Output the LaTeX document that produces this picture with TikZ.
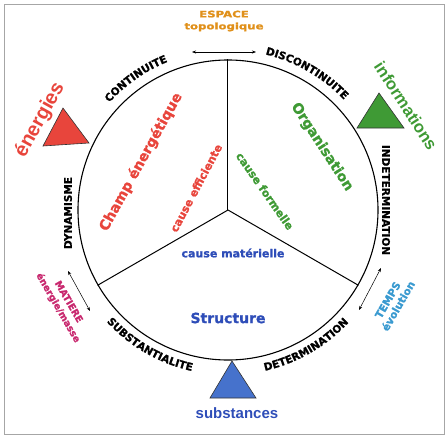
\documentclass[tikz,border=0pt]{standalone}
\usepackage{fontspec}
\setmainfont{DejaVu Sans}[BoldFeatures={FakeBold=1.2}]
\newfontfamily\bigf{Liberation Sans}
\usetikzlibrary{decorations.text,arrows.meta}
\definecolor{cred}{HTML}{E8453C}
\definecolor{cgreen}{HTML}{3F9A35}
\definecolor{cblue}{HTML}{2E4DB8}
\definecolor{tblue}{HTML}{4672CC}
\definecolor{corange}{HTML}{E0901A}
\definecolor{cmag}{HTML}{C8286E}
\definecolor{ccyan}{HTML}{3A9AD0}
\newcommand\labf{\fontsize{10.5}{12}\selectfont\bfseries}
\begin{document}
\begin{tikzpicture}[x=1pt,y=1pt,
  lab/.style={font=\labf},
  tri/.style={draw=black!80,line width=0.6pt},
  dbl/.style={{Stealth[length=4pt,width=3pt]}-{Stealth[length=4pt,width=3pt]},line width=0.5pt},
  curv/.style={decorate,decoration={text along path,text align=center,text={#1}}},
  big/.style={font=\bigf\bfseries\fontsize{#1}{#1}\selectfont}]
\useasboundingbox (-228,-227) rectangle (219,210);
\draw[gray!70,line width=0.8pt] (-224,-224) rectangle (216,206);
% circle and sectors
\node[circle,draw,line width=1.1pt,minimum size=300pt,inner sep=0pt] (c) at (0,0) {};
\coordinate (o) at (0,0);
\draw[line width=1pt] (o) -- (c.90);
\draw[line width=1pt] (o) -- (c.210);
\draw[line width=1pt] (o) -- (c.330);
% curved labels
\path[curv={|\labf|CONTINUITE}] (150:160) arc[start angle=150,end angle=100,radius=160];
\path[curv={|\labf|DISCONTINUITE}] (85:160) arc[start angle=85,end angle=35,radius=160];
\path[curv={|\labf|SUBSTANTIALITE}] (215:165) arc[start angle=215,end angle=265,radius=165];
\path[curv={|\labf|DETERMINATION}] (275:165) arc[start angle=275,end angle=325,radius=165];
\node[lab,rotate=-90] (indet) at (158,10) {INDETERMINATION};
\node[lab,rotate=90] (dyn) at (-160,-3) {DYNAMISME};
% espace
\node[font=\fontsize{9}{12}\selectfont\bfseries,text=corange,align=center] (esp) at (-4,189)
  {\scalebox{1.3}[1]{ESPACE}\\\scalebox{1.3}[1]{topologique}};
\coordinate (e1) at (-36,158);
\coordinate (e2) at (28,158);
\draw[dbl] (e1) -- (e2);
% matiere / temps
\node[font=\fontsize{9.5}{12}\selectfont\bfseries,text=cmag,align=center,rotate=-60] (mat) at (-165,-95) {MATIERE\\énergie/masse};
\coordinate (m1) at (-160,-61);
\coordinate (m2) at (-138,-101);
\draw[dbl] (m1) -- (m2);
\node[font=\fontsize{10.5}{12}\selectfont\bfseries,text=ccyan,align=center,rotate=60] (tps) at (165,-93) {TEMPS\\évolution};
\coordinate (t1) at (153,-58);
\coordinate (t2) at (131,-100);
\draw[dbl] (t1) -- (t2);
% triangles
\draw[tri,fill=cred] (-165,102) -- (-185,64) -- (-139,67) -- cycle;
\draw[tri,fill=cgreen] (151,117) -- (129,82) -- (176,82) -- cycle;
\draw[tri,fill=tblue] (4,-151) -- (-18,-188) -- (28,-188) -- cycle;
\node[big=20,text=cred,rotate=61] (ener) at (-188,90) {énergies};
\node[big=16.7,text=cgreen,rotate=-57] (info) at (178,104) {informations};
\node[big=15,text=cblue] (subs) at (9,-203) {substances};
% inner texts
\node[font=\fontsize{14}{14}\selectfont\bfseries,text=cred,rotate=61] (champ) at (-87,48) {Champ énergétique};
\node[font=\fontsize{11}{11}\selectfont\bfseries,text=cred,rotate=62] (ceff) at (-32,22) {cause efficiente};
\node[font=\fontsize{14}{14}\selectfont\bfseries,text=cgreen,rotate=-57] (org) at (94,63) {Organisation};
\node[font=\fontsize{11}{11}\selectfont\bfseries,text=cgreen,rotate=-55] (cform) at (37,19) {cause formelle};
\node[font=\fontsize{11}{11}\selectfont\bfseries,text=cblue] (cmat) at (5,-43) {cause matérielle};
\node[font=\fontsize{14}{14}\selectfont\bfseries,text=cblue] (struct) at (0,-108) {Structure};
\end{tikzpicture}
\end{document}
